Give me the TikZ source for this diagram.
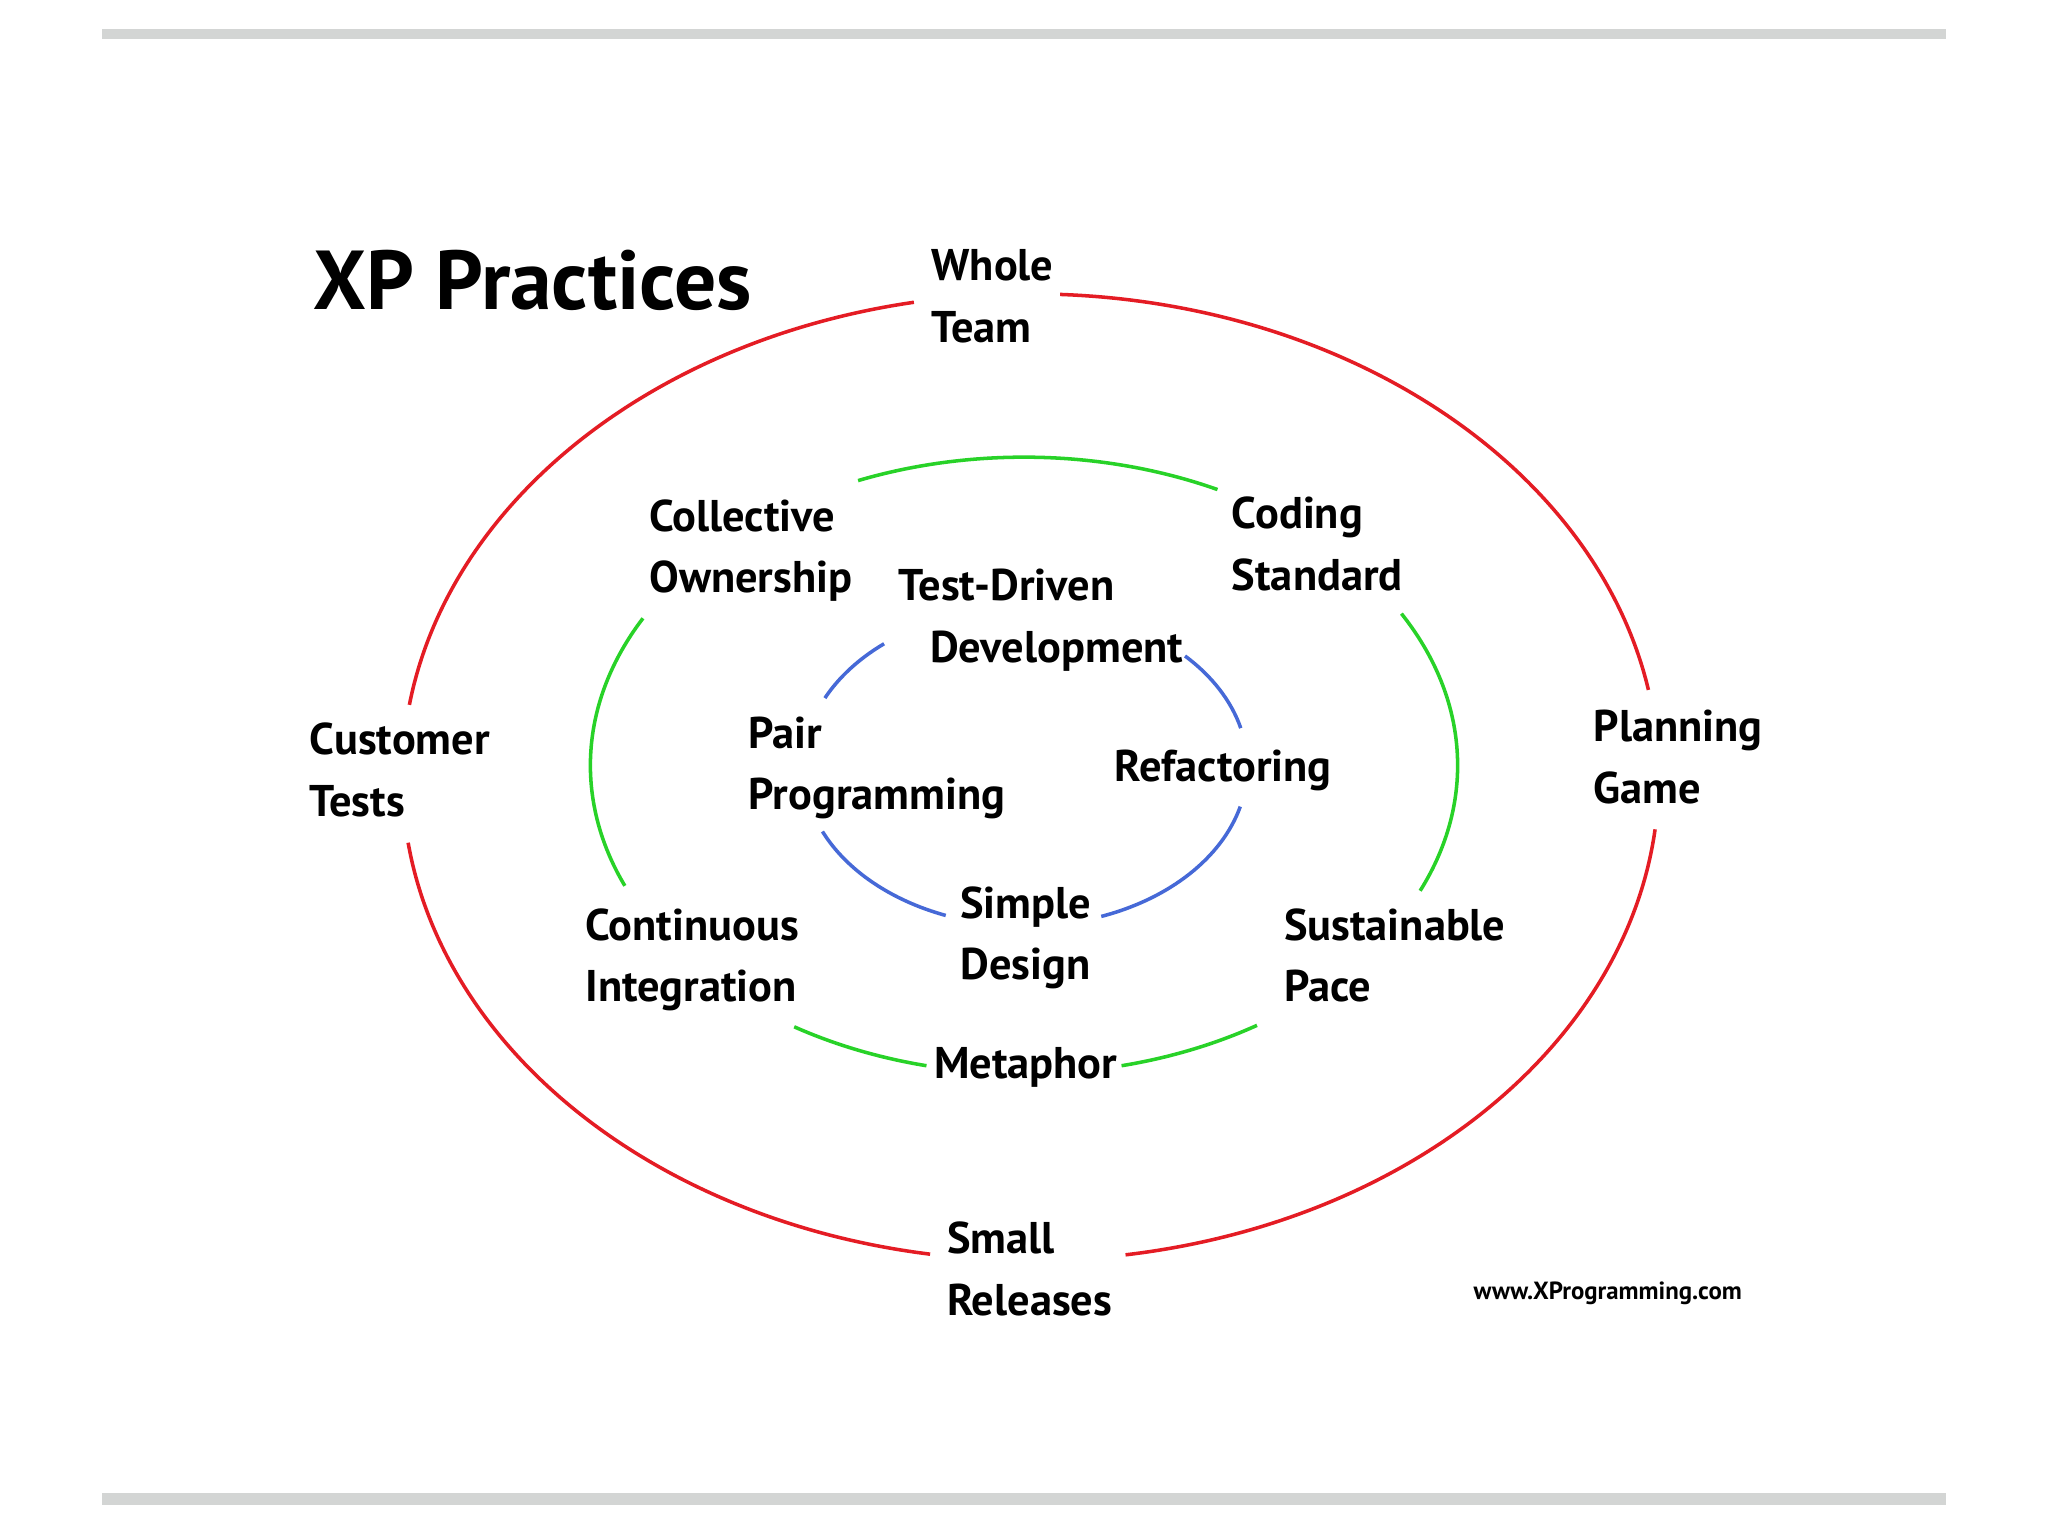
\documentclass[tikz,border=0pt]{standalone}
\usepackage{fontspec}
\setmainfont{PT Sans}
\definecolor{xred}{RGB}{228,28,36}
\definecolor{xgreen}{RGB}{40,210,40}
\definecolor{xblue}{RGB}{70,105,215}
\definecolor{bargray}{RGB}{211,213,212}
\begin{document}
\begin{tikzpicture}[x=1pt,y=1pt,
  redarc/.style={draw=xred,line width=2.7pt},
  greenarc/.style={draw=xgreen,line width=2.7pt},
  bluearc/.style={draw=xblue,line width=2.7pt},
  lbl/.style={anchor=base west,inner sep=0pt,font=\fontsize{34}{47}\selectfont\bfseries},
  bar/.style={fill=bargray,draw=none}]
\useasboundingbox (0,0) rectangle (1568,1176);
\fill[white] (0,0) rectangle (1568,1176);
\fill[bar] (78,1146) rectangle (1490,1154);
\fill[bar] (78,24) rectangle (1490,33);
% centres
\coordinate (cr) at (789,581);
\coordinate (cg) at (784,590);
\coordinate (cb) at (785,589);
% red ellipse
\draw[redarc] ([shift={(87.3:481 and 370)}]cr) arc[start angle=87.3,end angle=10.4,x radius=481,y radius=370];
\draw[redarc] ([shift={(-6.2:481 and 370)}]cr) arc[start angle=-6.2,end angle=-81.3,x radius=481,y radius=370];
\draw[redarc] ([shift={(260.8:481 and 370)}]cr) arc[start angle=260.8,end angle=187.8,x radius=481,y radius=370];
\draw[redarc] ([shift={(171.4:481 and 370)}]cr) arc[start angle=171.4,end angle=100.7,x radius=481,y radius=370];
% green ellipse
\draw[greenarc] ([shift={(112.5:332 and 236)}]cg) arc[start angle=112.5,end angle=63.5,x radius=332,y radius=236];
\draw[greenarc] ([shift={(29.5:332 and 236)}]cg) arc[start angle=29.5,end angle=-24,x radius=332,y radius=236];
\draw[greenarc] ([shift={(-57.5:332 and 236)}]cg) arc[start angle=-57.5,end angle=-77,x radius=332,y radius=236];
\draw[greenarc] ([shift={(257:332 and 236)}]cg) arc[start angle=257,end angle=238,x radius=332,y radius=236];
\draw[greenarc] ([shift={(203:332 and 236)}]cg) arc[start angle=203,end angle=151.5,x radius=332,y radius=236];
% blue ellipse
\draw[bluearc] ([shift={(154.5:170 and 122)}]cb) arc[start angle=154.5,end angle=129.5,x radius=170,y radius=122];
\draw[bluearc] ([shift={(44:170 and 122)}]cb) arc[start angle=44,end angle=14,x radius=170,y radius=122];
\draw[bluearc] ([shift={(-14.5:170 and 122)}]cb) arc[start angle=-14.5,end angle=-70,x radius=170,y radius=122];
\draw[bluearc] ([shift={(249:170 and 122)}]cb) arc[start angle=249,end angle=204,x radius=170,y radius=122];
% labels
\node[anchor=base west,inner sep=0pt,font=\fontsize{64}{70}\selectfont\bfseries] (title) at (240,939) {XP Practices};
\node[lbl] (whole) at (713,961) {\begin{tabular}[t]{@{}l@{}}Whole\\Team\end{tabular}};
\node[lbl] (coll) at (497,769) {\begin{tabular}[t]{@{}l@{}}Collective\\Ownership\end{tabular}};
\node[lbl] (coding) at (943,771) {\begin{tabular}[t]{@{}l@{}}Coding\\Standard\end{tabular}};
\node[lbl] (tdd) at (688,716) {\begin{tabular}[t]{@{}l@{}}Test-Driven\\\hspace*{24pt}Development\end{tabular}};
\node[lbl] (cust) at (237,598) {\begin{tabular}[t]{@{}l@{}}Customer\\Tests\end{tabular}};
\node[lbl] (plan) at (1220,608) {\begin{tabular}[t]{@{}l@{}}Planning\\Game\end{tabular}};
\node[lbl] (pair) at (573,603) {\begin{tabular}[t]{@{}l@{}}Pair\\Programming\end{tabular}};
\node[lbl] (refac) at (853,578) {Refactoring};
\node[lbl] (simple) at (735,473) {\begin{tabular}[t]{@{}l@{}}Simple\\Design\end{tabular}};
\node[lbl] (ci) at (448,456) {\begin{tabular}[t]{@{}l@{}}Continuous\\Integration\end{tabular}};
\node[lbl] (sust) at (983,456) {\begin{tabular}[t]{@{}l@{}}Sustainable\\Pace\end{tabular}};
\node[lbl] (meta) at (715,350) {Metaphor};
\node[lbl] (small) at (725,216) {\begin{tabular}[t]{@{}l@{}}Small\\Releases\end{tabular}};
\node[anchor=base west,inner sep=0pt,font=\fontsize{19}{21}\selectfont\bfseries] (url) at (1128,181) {www.XProgramming.com};
\end{tikzpicture}
\end{document}
